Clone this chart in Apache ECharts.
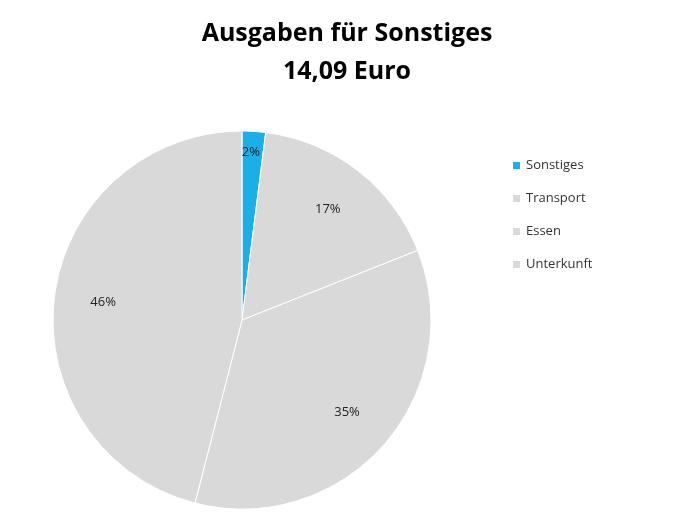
<!DOCTYPE html>
<html><head><meta charset="utf-8">
<script src="https://cdn.jsdelivr.net/npm/echarts@6/dist/echarts.min.js"></script>
<style>html,body{margin:0;padding:0;background:#fff}#c{width:685px;height:531px}</style>
</head><body><div id="c"></div>
<script>
const categories = ['Sonstiges','Transport','Essen','Unterkunft'];
const values = [2,17,35,46];
const colors = ['#1AAFE6','#D9D9D9','#D9D9D9','#D9D9D9'];
const data = categories.map((n,i)=>({name:n,value:values[i],itemStyle:{color:colors[i]}}));
const chart = echarts.init(document.getElementById('c'));
chart.setOption({
  animation:false,
  title:{text:'Ausgaben für Sonstiges\n14,09 Euro',left:342,textAlign:'center',top:10,
    textStyle:{fontFamily:'Open Sans',fontWeight:'bold',fontSize:25,lineHeight:38,color:'#000'}},
  legend:{orient:'vertical',left:506,top:154,itemWidth:9,itemHeight:9,itemGap:20,icon:'rect',
    textStyle:{fontFamily:'Open Sans',fontSize:13,color:'#333'},data:categories},
  series:[
    {type:'pie',center:[242,320],radius:[0,189],startAngle:90,clockwise:true,data:data,
     label:{show:false},labelLine:{show:false},itemStyle:{borderColor:'#fff',borderWidth:1},silent:true},
    {type:'pie',center:[242,320],radius:[85,189],startAngle:90,clockwise:true,silent:true,
     data:data.map((d,i)=>({name:d.name,value:d.value,itemStyle:{color:'transparent'},
       label:i===0?{offset:[0,-28]}:undefined})),
     label:{show:true,position:'inside',formatter:'{d}%',fontFamily:'Open Sans',fontSize:13,color:'#222'},
     labelLine:{show:false},legendHoverLink:false}
  ]
});
</script></body></html>
